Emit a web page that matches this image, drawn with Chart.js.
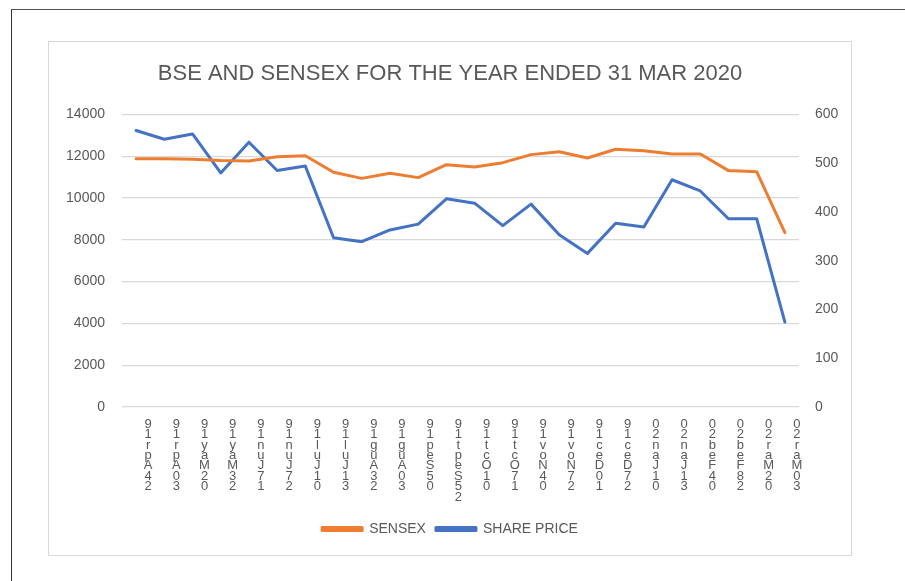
<!DOCTYPE html>
<html lang="en">
<head>
<meta charset="UTF-8">
<title>BSE and Sensex</title>
<script src="https://cdn.jsdelivr.net/npm/chart.js"></script>
<style>
    html, body { margin: 0; padding: 0; background: #fff; }
    body { width: 905px; height: 581px; position: relative; overflow: hidden; font-family: "Liberation Sans", Arial, sans-serif; }
    .frame {
        position: absolute; left: 11px; top: 9px; width: 1000px; height: 700px;
        border-left: 1px solid #333; border-top: 1px solid #555;
    }
    .box {
        position: absolute; left: 48px; top: 41px; width: 802px; height: 513px;
        border: 1px solid #d9d9d9; background: #fff;
    }
    .box canvas { position: absolute; left: 0; top: 0; }
</style>
</head>
<body>
<div class="frame"></div>
<div class="box">
    <canvas id="chart" width="802" height="513"></canvas>
</div>
<script>
    // dates as they appear, labels are drawn stacked (reversed, like the sheet)
    const dates = ['24Apr19', '30Apr19', '02May19', '23May19', '17Jun19', '27Jun19',
        '01Jul19', '31Jul19', '23Aug19', '30Aug19', '05Sep19', '25Sept19',
        '01Oct19', '17Oct19', '04Nov19', '27Nov19', '10Dec19', '27Dec19',
        '01Jan20', '31Jan20', '04Feb20', '28Feb20', '02Mar20', '30Mar20'];

    const sensex = [11880, 11880, 11850, 11790, 11770, 11975, 12025, 11230, 10940, 11180, 10975, 11595,
        11485, 11690, 12075, 12215, 11915, 12330, 12265, 12105, 12105, 11310, 11260, 8345];

    const sharePrice = [567, 549, 560, 480, 543, 485, 494, 347, 339, 363, 375, 427,
        418, 372, 416, 353, 315, 377, 369, 466, 443, 386, 386, 174];

    const leftTicks = { min: 0, max: 14000, step: 2000 };
    const rightTicks = { min: 0, max: 600, step: 100 };

    const labels = dates.map(d => d.split('').reverse());

    const grey = '#595959';

    new Chart(document.getElementById('chart'), {
        type: 'line',
        data: {
            labels: labels,
            datasets: [{
                label: 'SENSEX',
                data: sensex,
                yAxisID: 'y',
                borderColor: '#ED7D31',
                backgroundColor: '#ED7D31',
                borderWidth: 3,
                pointRadius: 0,
                tension: 0,
                borderCapStyle: 'round',
                borderJoinStyle: 'round'
            }, {
                label: 'SHARE PRICE',
                data: sharePrice,
                yAxisID: 'y1',
                borderColor: '#4472C4',
                backgroundColor: '#4472C4',
                borderWidth: 3,
                pointRadius: 0,
                tension: 0,
                borderCapStyle: 'round',
                borderJoinStyle: 'round'
            }]
        },
        options: {
            responsive: false,
            animation: false,
            layout: { padding: { top: 0, bottom: 9, left: 0, right: 0 } },
            scales: {
                x: {
                    offset: true,
                    grid: { display: false },
                    border: { display: false },
                    ticks: {
                        color: grey,
                        maxRotation: 0,
                        minRotation: 0,
                        autoSkip: false,
                        padding: 4,
                        labelOffset: 12,
                        font: { family: 'Liberation Sans', size: 13, lineHeight: 0.8 }
                    },
                    afterFit: s => { s.height = 105; }
                },
                y: {
                    position: 'left',
                    min: leftTicks.min,
                    max: leftTicks.max,
                    grid: { color: '#d9d9d9', lineWidth: 1.3, drawTicks: false },
                    border: { display: false },
                    ticks: {
                        stepSize: leftTicks.step,
                        color: grey,
                        padding: 17,
                        font: { family: 'Liberation Sans', size: 14 },
                        callback: v => String(v)
                    },
                    afterFit: s => { s.width = 73; }
                },
                y1: {
                    position: 'right',
                    min: rightTicks.min,
                    max: rightTicks.max,
                    grid: { drawOnChartArea: false, drawTicks: false },
                    border: { display: false },
                    ticks: {
                        stepSize: rightTicks.step,
                        color: grey,
                        padding: 16,
                        font: { family: 'Liberation Sans', size: 14 },
                        callback: v => String(v)
                    },
                    afterFit: s => { s.width = 52; }
                }
            },
            plugins: {
                title: {
                    display: true,
                    text: 'BSE AND SENSEX FOR THE YEAR ENDED 31 MAR 2020',
                    color: grey,
                    font: { family: 'Liberation Sans', size: 22, weight: 'normal' },
                    padding: { top: 19, bottom: 27 }
                },
                legend: {
                    position: 'bottom',
                    labels: {
                        color: grey,
                        boxWidth: 40,
                        boxHeight: 3,
                        padding: 10,
                        font: { family: 'Liberation Sans', size: 14 }
                    }
                },
                tooltip: { enabled: false }
            }
        }
    });
</script>
</body>
</html>
